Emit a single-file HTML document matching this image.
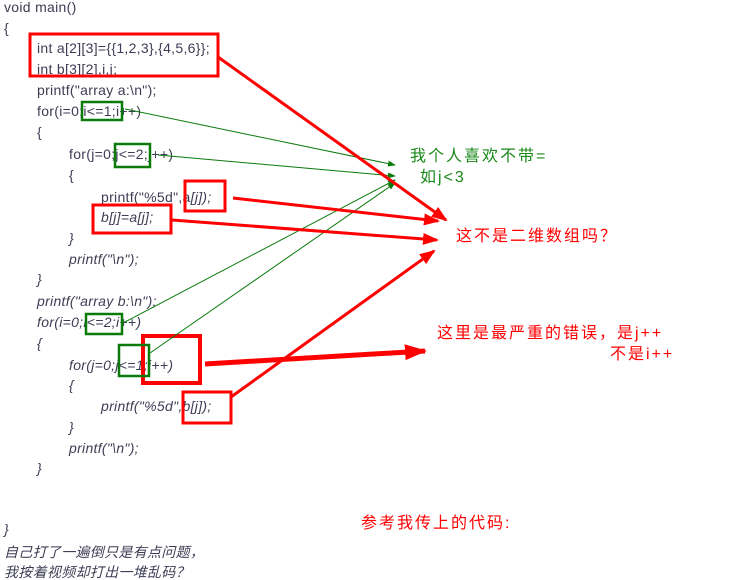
<!DOCTYPE html>
<html><head><meta charset="utf-8"><style>
body{margin:0;width:755px;height:574px;background:#fff;position:relative;overflow:hidden;font-family:"Liberation Sans","Noto Sans CJK SC",sans-serif;}
.c{position:absolute;font-size:14px;letter-spacing:0.3px;color:#3d3d55;white-space:pre;line-height:16px;}
.i{font-style:italic}
.a{position:absolute;font-size:16px;letter-spacing:2px;white-space:pre;font-family:"Liberation Sans","Noto Sans CJK SC",sans-serif;line-height:18px}
svg{position:absolute;left:0;top:0}
</style></head><body>
<div class="c" style="left:4px;top:-1px">void main()</div>
<div class="c" style="left:4px;top:20px">{</div>
<div class="c" style="left:37px;top:40px">int a[2][3]={{1,2,3},{4,5,6}};</div>
<div class="c" style="left:37px;top:61px">int b[3][2],i,j;</div>
<div class="c" style="left:37px;top:82px">printf("array a:\n");</div>
<div class="c" style="left:37px;top:103px">for(i=0;i&lt;=1;i++)</div>
<div class="c" style="left:37px;top:124px">{</div>
<div class="c" style="left:69px;top:146px">for(j=0;j&lt;=2;j++)</div>
<div class="c" style="left:69px;top:167px">{</div>
<div class="c" style="left:101px;top:189px">printf("%5d",a<i>[j]);</i></div>
<div class="c i" style="left:101px;top:209px">b[j]=a[j];</div>
<div class="c i" style="left:69px;top:230px">}</div>
<div class="c i" style="left:69px;top:251px">printf("\n");</div>
<div class="c i" style="left:37px;top:271px">}</div>
<div class="c i" style="left:37px;top:293px">printf("array b:\n");</div>
<div class="c i" style="left:37px;top:314px">for(i=0;i&lt;=2;i++)</div>
<div class="c i" style="left:37px;top:335px">{</div>
<div class="c i" style="left:69px;top:357px">for(j=0;j&lt;=1;i++)</div>
<div class="c i" style="left:69px;top:377px">{</div>
<div class="c i" style="left:101px;top:398px">printf("%5d",b[j]);</div>
<div class="c i" style="left:69px;top:419px">}</div>
<div class="c i" style="left:69px;top:440px">printf("\n");</div>
<div class="c i" style="left:37px;top:460px">}</div>
<div class="c i" style="left:4px;top:521px">}</div>
<div class="c i" style="left:4px;top:544px">自己打了一遍倒只是有点问题，</div>
<div class="c i" style="left:4px;top:564px">我按着视频却打出一堆乱码？</div>

<div class="a" style="left:410px;top:148px;color:#1a8a1a">我个人喜欢不带=</div>
<div class="a" style="left:420px;top:169px;color:#1a8a1a">如j&lt;3</div>
<div class="a" style="left:456px;top:228px;color:#f00">这不是二维数组吗？</div>
<div class="a" style="left:437px;top:325px;color:#f00">这里是最严重的错误，是j++</div>
<div class="a" style="left:610px;top:346px;color:#f00">不是i++</div>
<div class="a" style="left:361px;top:515px;color:#f00">参考我传上的代码:</div>

<svg width="755" height="574">
<defs>
<marker id="g" markerWidth="8" markerHeight="6" refX="7" refY="3" orient="auto" markerUnits="userSpaceOnUse"><path d="M0,0L8,3L0,6z" fill="#0a7a0a"/></marker>
<marker id="r" markerWidth="16" markerHeight="12" refX="14" refY="6" orient="auto" markerUnits="userSpaceOnUse"><path d="M0,0L16,6L0,12z" fill="#f00"/></marker>
<marker id="rb" markerWidth="22" markerHeight="16" refX="20" refY="8" orient="auto" markerUnits="userSpaceOnUse"><path d="M0,0L22,8L0,16z" fill="#f00"/></marker>
</defs>
<g fill="none" stroke="#f00" stroke-width="3">
<rect x="30" y="34" width="188" height="42"/>
<rect x="185" y="181" width="40" height="30"/>
<rect x="93" y="205" width="78" height="28"/>
<rect x="143" y="336" width="57" height="47" stroke-width="4"/>
<rect x="183" y="392" width="48" height="31"/>
</g>
<g fill="none" stroke="#0a7a0a" stroke-width="2.5">
<rect x="82" y="102" width="40" height="18"/>
<rect x="115" y="144" width="35" height="23"/>
<rect x="86" y="314" width="36" height="20"/>
<rect x="119" y="345" width="30" height="31"/>
</g>
<g stroke="#0a7a0a" stroke-width="1">
<line x1="125" y1="109" x2="395" y2="165" marker-end="url(#g)"/>
<line x1="158" y1="155" x2="395" y2="176" marker-end="url(#g)"/>
<line x1="123" y1="323" x2="395" y2="180" marker-end="url(#g)"/>
<line x1="150" y1="353" x2="395" y2="183" marker-end="url(#g)"/>
</g>
<g stroke="#f00" stroke-width="3">
<line x1="218" y1="57" x2="446" y2="220" marker-end="url(#r)"/>
<line x1="233" y1="198" x2="438" y2="221" marker-end="url(#r)"/>
<line x1="172" y1="220" x2="437" y2="240" marker-end="url(#r)"/>
<line x1="231" y1="397" x2="434" y2="251" marker-end="url(#r)"/>
<line x1="205" y1="364" x2="425" y2="351" stroke-width="5" marker-end="url(#rb)"/>
</g>
</svg>
</body></html>
